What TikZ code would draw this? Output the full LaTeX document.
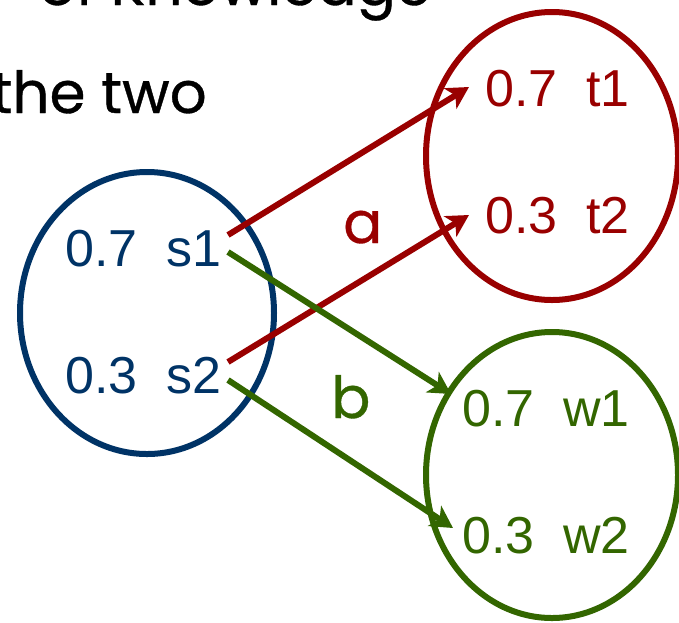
\documentclass[tikz,border=0pt]{standalone}
\usepackage{fontspec}
\setmainfont{Liberation Sans}
\newfontfamily\comicfont[FakeBold=0.6]{Poppins}
\usetikzlibrary{shapes.geometric,arrows.meta}
\definecolor{cblue}{RGB}{0,51,102}
\definecolor{cred}{RGB}{153,0,0}
\definecolor{cgreen}{RGB}{51,102,0}
\tikzset{
  setbox/.style={ellipse, draw, line width=6pt, inner sep=0pt},
  val/.style={anchor=base west, inner sep=0pt, font=\fontsize{52}{60}\selectfont},
  lab/.style={anchor=base west, inner sep=0pt, font=\comicfont\fontsize{58}{66}\selectfont},
  conn/.style={line width=6pt, -{Stealth[length=22pt,width=24pt,inset=6pt]}},
}
\begin{document}
\begin{tikzpicture}[x=1pt,y=-1pt]
\useasboundingbox (0,0) rectangle (679,622);
% top text (cut off)
\node[lab, anchor=base east] (title1) at (432,5) {of Knowledge};
\node[lab, anchor=base east] (title2) at (207,113) {the two};
% sets
\node[setbox, cblue, minimum width=254pt, minimum height=282pt] (S) at (147,313) {};
\node[setbox, cred, minimum width=252pt, minimum height=288pt] (T) at (552,156) {};
\node[setbox, cgreen, minimum width=252pt, minimum height=286pt] (W) at (552,475) {};
% values
\node[val, cblue] (s1) at (65,266) {0.7\ \ s1};
\node[val, cblue] (s2) at (65,393) {0.3\ \ s2};
\node[val, cred] (t1) at (485,106) {0.7\ \ t1};
\node[val, cred] (t2) at (485,233) {0.3\ \ t2};
\node[val, cgreen] (w1) at (462,426) {0.7\ \ w1};
\node[val, cgreen] (w2) at (462,553) {0.3\ \ w2};
% connector ends
\coordinate (s1a) at (228,235);
\coordinate (s1b) at (228,252);
\coordinate (s2a) at (228,362);
\coordinate (s2b) at (228,380);
\coordinate (t1in) at (469,87);
\coordinate (t2in) at (469,215);
\coordinate (w1in) at (451,394);
\coordinate (w2in) at (453,528);
\draw[conn, cred] (s1a) -- (t1in);
\draw[conn, cred] (s2a) -- (t2in);
\draw[conn, cgreen] (s1b) -- (w1in);
\draw[conn, cgreen] (s2b) -- (w2in);
% labels
\node[lab, cred] (a) at (343,243) {a};
\node[lab, cgreen] (b) at (331,418) {b};
\end{tikzpicture}
\end{document}
